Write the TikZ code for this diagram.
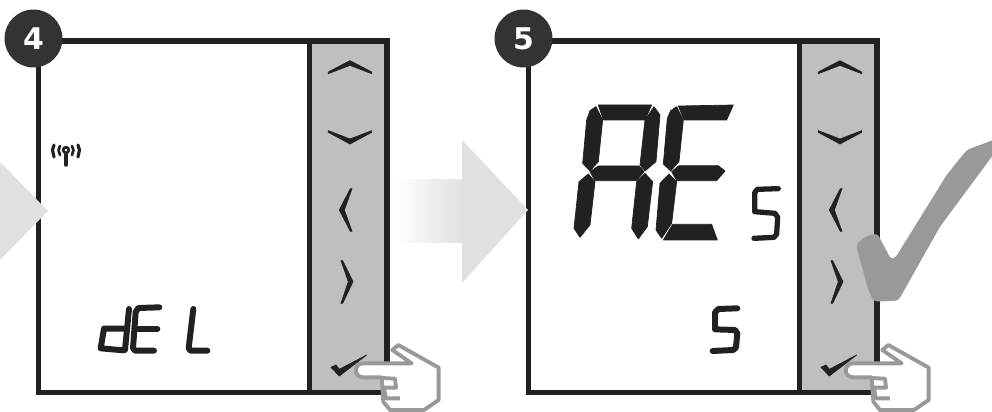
\documentclass[tikz,border=0pt]{standalone}
\usepackage{fontspec}
\setmainfont{DejaVu Sans}

\tikzset{
  badge/.style={circle, fill=black!80, text=white, minimum size=1.16cm, inner sep=0pt, font=\bfseries\fontsize{17}{17}\selectfont},
  frameline/.style={draw=black!87, line width=3.3pt},
  lcd/.style={fill=black!87, draw=black!87, line width=0.4pt, line join=round},
  seg/.style={draw=black!87, line width=3.4pt, line cap=round, line join=round},
  fine/.style={x=0.00667cm, y=-0.00667cm},
  handline/.style={draw=black!40, line width=2.2pt, line join=round},
  panel/.pic={
    \fill[black!25] (309,41) rectangle (387,392);
    \draw[frameline] (38.5,41) rectangle (387,392.5);
    \draw[frameline] (309.5,41) -- (309.5,392.5);
    % keys
    \begin{scope}[shift={(300,30)}, fine]
      \fill[lcd] (85,126) -- (150,92) -- (215,126) -- (215,131) -- (150,106) -- (85,131) -- cycle;
      \fill[lcd] (85,302) -- (150,327) -- (215,302) -- (215,307) -- (150,342) -- (85,307) -- cycle;
      \fill[lcd] (151,476) -- (156,476) -- (133,540) -- (156,604) -- (151,604) -- (118,540) -- cycle;
      \fill[lcd] (123,692) -- (128,692) -- (159,755) -- (128,820) -- (123,820) -- (145,755) -- cycle;
      \fill[lcd] (93,1012) -- (108,1005) -- (118,1018) -- (200,975) -- (118,1038) -- cycle;
    \end{scope}
    % hand
    \begin{scope}[shift={(300,320)}, fine]
      \draw[handline, fill=white] (277,90) -- (295,75) -- (416,143) -- (416,240) -- (372,270) -- (270,270)
        -- (250,245) -- (245,172) -- (190,172) .. controls (160,172) and (160,130) .. (190,130)
        -- (335,130) -- cycle;
      \draw[handline] (245,174) -- (285,176) -- (288,203) -- (250,203);
      \draw[handline] (252,207) -- (258,235) -- (300,235);
    \end{scope}
  }
}

\begin{document}
\begin{tikzpicture}[x=0.02cm, y=-0.02cm]
  \useasboundingbox (0,0) rectangle (992,412);
  \fill[white] (0,0) rectangle (992,412);

  \pic at (0,0) {panel};
  \pic at (490,0) {panel};

  \node[badge] (stepfour) at (33.5,38.5) {4};
  \node[badge] (stepfive) at (523.5,38.5) {5};

  % arrows
  \fill[black!12] (0,162) -- (48,211) -- (0,260) -- cycle;
  \shade[left color=white, right color=black!12] (395,180) rectangle (462,243);
  \fill[black!12] (462,140) -- (528,210) -- (462,283) -- cycle;

  % aerial
  \draw[draw=black!87, line width=1.5pt] (66,150) circle (2.8);
  \draw[seg, line width=2pt] (66,154) -- (66,165);
  \draw[seg, line width=1.5pt] (60,146) -- (58.5,150) -- (60,155);
  \draw[seg, line width=1.5pt] (72,146) -- (73.5,150) -- (72,155);
  \draw[seg, line width=1.8pt] (54,145) -- (52.5,150) -- (54,157);
  \draw[seg, line width=1.8pt] (78,145) -- (79.5,150) -- (78,157);

  % dE L
  \begin{scope}[shift={(60,280)}, fine]
    \draw[seg] (207,87) -- (195,210);
    \draw[seg] (192,146) -- (132,146) -- (122,205) -- (190,211);
    \draw[seg] (298,82) -- (235,84) -- (227,96) -- (219,205) -- (226,212) -- (282,212);
    \draw[seg] (228,147) -- (292,147);
    \draw[seg] (400,87) -- (386,205) -- (392,212) -- (442,212);
  \end{scope}

  % AE
  \begin{scope}[shift={(530,90)}, fine]
    \fill[lcd] (205,45) -- (365,45) -- (345,90) -- (220,90) -- cycle;
    \fill[lcd] (198,50) -- (218,90) -- (205,215) -- (180,243) -- (158,220) -- (170,90) -- (180,62) -- cycle;
    \fill[lcd] (372,50) -- (390,75) -- (378,215) -- (345,243) -- (330,225) -- (345,90) -- cycle;
    \fill[lcd] (180,245) -- (205,228) -- (328,228) -- (342,245) -- (320,272) -- (195,272) -- cycle;
    \fill[lcd] (175,252) -- (195,275) -- (180,405) -- (150,442) -- (132,415) -- (147,275) -- cycle;
    \fill[lcd] (345,250) -- (368,275) -- (352,410) -- (325,447) -- (305,415) -- (320,275) -- cycle;
    \fill[lcd] (445,48) -- (610,45) -- (590,90) -- (462,90) -- cycle;
    \fill[lcd] (440,50) -- (460,90) -- (447,215) -- (422,243) -- (400,222) -- (412,85) -- (422,62) -- cycle;
    \fill[lcd] (425,245) -- (447,227) -- (565,227) -- (585,243) -- (560,272) -- (440,272) -- cycle;
    \fill[lcd] (417,252) -- (440,275) -- (425,400) -- (395,445) -- (378,420) -- (390,280) -- cycle;
    \fill[lcd] (400,450) -- (428,403) -- (545,403) -- (562,450) -- cycle;
    \draw[seg, line width=3pt] (745,296) -- (682,298) -- (674,308) -- (674,365) -- (735,370) -- (743,382) -- (740,432) -- (732,442) -- (672,445);
  \end{scope}

  % s below
  \begin{scope}[shift={(660,280)}, fine]
    \draw[seg] (232,85) -- (175,87) -- (165,97) -- (165,148) -- (225,150) -- (232,160) -- (228,202) -- (220,210) -- (158,213);
  \end{scope}

  % big tick
  \begin{scope}[shift={(790,120)}, fine]
    \fill[black!40, rounded corners=2pt] (198,375) -- (225,350) -- (262,340) -- (303,418) -- (315,415) -- (470,165) -- (530,90) -- (650,45)
      -- (650,50) -- (450,320) -- (325,542) -- (252,545) -- (235,510) -- cycle;
  \end{scope}
\end{tikzpicture}
\end{document}
